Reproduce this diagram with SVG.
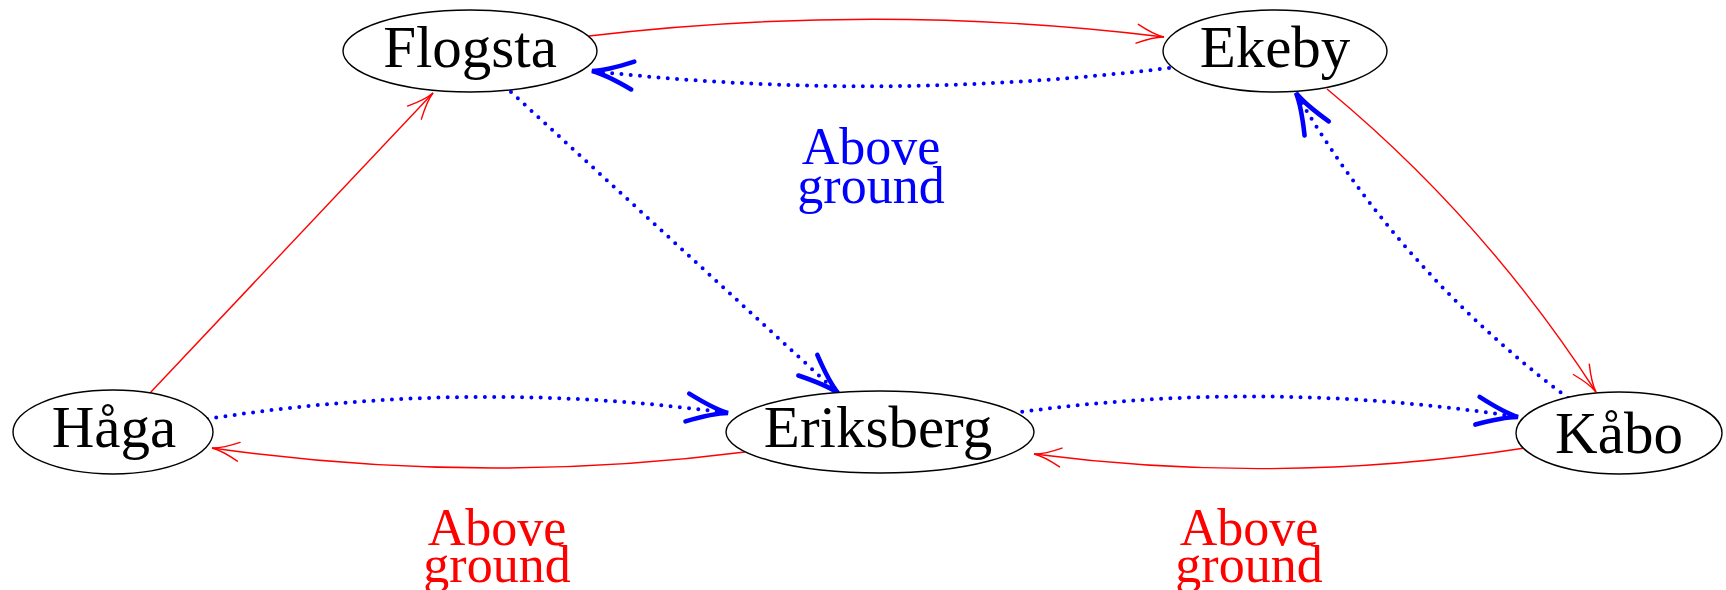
<svg xmlns="http://www.w3.org/2000/svg" width="1726" height="590" viewBox="0 0 1726 590">
<style>
.node ellipse{fill:#fff;stroke:#000;stroke-width:1.4}
.node text{font-family:"Liberation Serif",serif;font-size:59px;fill:#000;text-anchor:middle}
.lbl{font-family:"Liberation Serif",serif;font-size:52px;text-anchor:middle}
.red{fill:none;stroke:#ff0000;stroke-width:1.4;marker-end:url(#ra)}
.blue{fill:none;stroke:#0000ff;stroke-width:4;stroke-dasharray:0 9.3;stroke-linecap:round;marker-end:url(#ba)}
</style>
<defs>
<marker id="ra" markerUnits="userSpaceOnUse" orient="auto" markerWidth="40" markerHeight="40" refX="0" refY="0" viewBox="-30 -20 40 40" overflow="visible">
<path d="M -27,-9.5 Q -10,-1 0,0 Q -10,1 -27,9.5" fill="none" stroke="#ff0000" stroke-width="1.4" stroke-linecap="round"/>
</marker>
<marker id="ba" markerUnits="userSpaceOnUse" orient="auto" markerWidth="60" markerHeight="60" refX="0" refY="0" viewBox="-50 -30 60 60" overflow="visible">
<path d="M -41,-14 Q -14,-2 0,0 Q -14,2 -41,14" fill="none" stroke="#0000ff" stroke-width="4.6" stroke-linecap="round"/>
</marker>
</defs>
<g id="connectors">
<path class="red" d="M 589,36 Q 877,2 1164,37"/>
<path class="blue" d="M 1169,68 Q 880,103 592,71"/>
<path class="red" d="M 150,393 L 433,93"/>
<path class="blue" d="M 511,92 L 838,393"/>
<path class="red" d="M 1327,89 Q 1484,219 1596,392"/>
<path class="blue" d="M 1568,398 Q 1401,273 1296,93"/>
<path class="blue" d="M 207,419 Q 470,378 728,413"/>
<path class="red" d="M 745,452 Q 480,486 212,448"/>
<path class="blue" d="M 1013,413 Q 1265,378 1518,417"/>
<path class="red" d="M 1525,448 Q 1280,486 1034,454"/>
</g>
<g id="flogsta" class="node"><ellipse cx="470" cy="51" rx="127" ry="41"/><text x="470" y="67">Flogsta</text></g>
<g id="ekeby" class="node"><ellipse cx="1275" cy="51" rx="112" ry="41"/><text x="1275" y="67">Ekeby</text></g>
<g id="haga" class="node"><ellipse cx="113" cy="432" rx="100" ry="42"/><text x="114" y="447">Håga</text></g>
<g id="eriksberg" class="node"><ellipse cx="880" cy="432" rx="154" ry="41"/><text x="878" y="447">Eriksberg</text></g>
<g id="kabo" class="node"><ellipse cx="1619" cy="433" rx="103" ry="41"/><text x="1619" y="453">Kåbo</text></g>
<g id="labels">
<text class="lbl" fill="#0000ff" x="871" y="164">Above</text>
<text class="lbl" fill="#0000ff" x="871" y="203">ground</text>
<text class="lbl" fill="#ff0000" x="497" y="545">Above</text>
<text class="lbl" fill="#ff0000" x="497" y="582">ground</text>
<text class="lbl" fill="#ff0000" x="1249" y="545">Above</text>
<text class="lbl" fill="#ff0000" x="1249" y="582">ground</text>
</g>
</svg>
